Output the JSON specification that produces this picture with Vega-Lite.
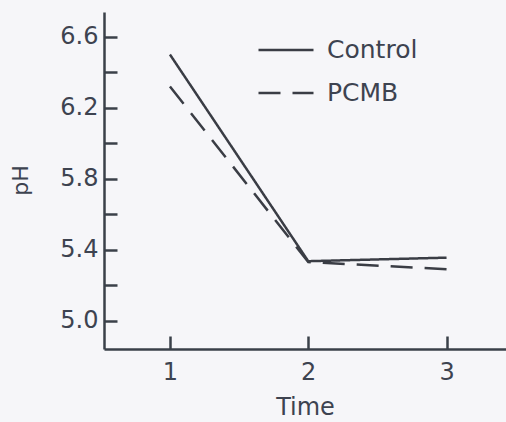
{
  "$schema": "https://vega.github.io/schema/vega-lite/v6.json",
  "width": 402,
  "height": 337,
  "autosize": "none",
  "padding": {"left": 104, "top": 12, "right": 0, "bottom": 73},
  "background": "#f6f6f9",
  "config": {
    "view": {"stroke": null},
    "font": "DejaVu Sans",
    "axis": {
      "grid": false,
      "domainColor": "#3a4049",
      "domainWidth": 2.5,
      "tickColor": "#3a4049",
      "tickWidth": 2.5,
      "tickSize": -13,
      "labelColor": "#3d4350",
      "titleColor": "#3d4350",
      "labelFont": "DejaVu Sans",
      "titleFont": "DejaVu Sans",
      "labelFontSize": 24,
      "titleFontSize": 24,
      "titleFontWeight": "normal"
    }
  },
  "data": {
    "values": [
      {"time": 1, "pH": 6.50, "group": "Control"},
      {"time": 2, "pH": 5.335, "group": "Control"},
      {"time": 3, "pH": 5.355, "group": "Control"},
      {"time": 1, "pH": 6.32, "group": "PCMB"},
      {"time": 2, "pH": 5.33, "group": "PCMB"},
      {"time": 3, "pH": 5.29, "group": "PCMB"}
    ]
  },
  "mark": {"type": "line", "strokeWidth": 2.5, "color": "#3a3d45"},
  "encoding": {
    "x": {
      "field": "time",
      "type": "quantitative",
      "scale": {"domain": [0.523, 3.43], "nice": false, "zero": false},
      "axis": {"values": [1, 2, 3], "title": "Time", "labelPadding": 24, "titlePadding": 11, "format": "d"}
    },
    "y": {
      "field": "pH",
      "type": "quantitative",
      "scale": {"domain": [4.84, 6.74], "nice": false, "zero": false},
      "axis": {
        "values": [5.0, 5.2, 5.4, 5.6, 5.8, 6.0, 6.2, 6.4, 6.6],
        "labelExpr": "(round(datum.value*10) % 4 == 2) ? format(datum.value, '.1f') : ''",
        "labelPadding": 19,
        "title": "pH",
        "titleX": -72,
        "titleY": 168,
        "titleFontSize": 22
      }
    },
    "strokeDash": {
      "field": "group",
      "type": "nominal",
      "scale": {"domain": ["Control", "PCMB"], "range": [[1, 0], [22, 12]]},
      "legend": {
        "title": null,
        "orient": "none",
        "legendX": 153,
        "legendY": 9,
        "padding": 0,
        "symbolType": "stroke",
        "symbolSize": 3025,
        "symbolStrokeWidth": 2.5,
        "symbolStrokeColor": "#3a3d45",
        "labelFontSize": 25,
        "labelColor": "#3d4350",
        "labelOffset": 12,
        "rowPadding": 1
      }
    }
  }
}
